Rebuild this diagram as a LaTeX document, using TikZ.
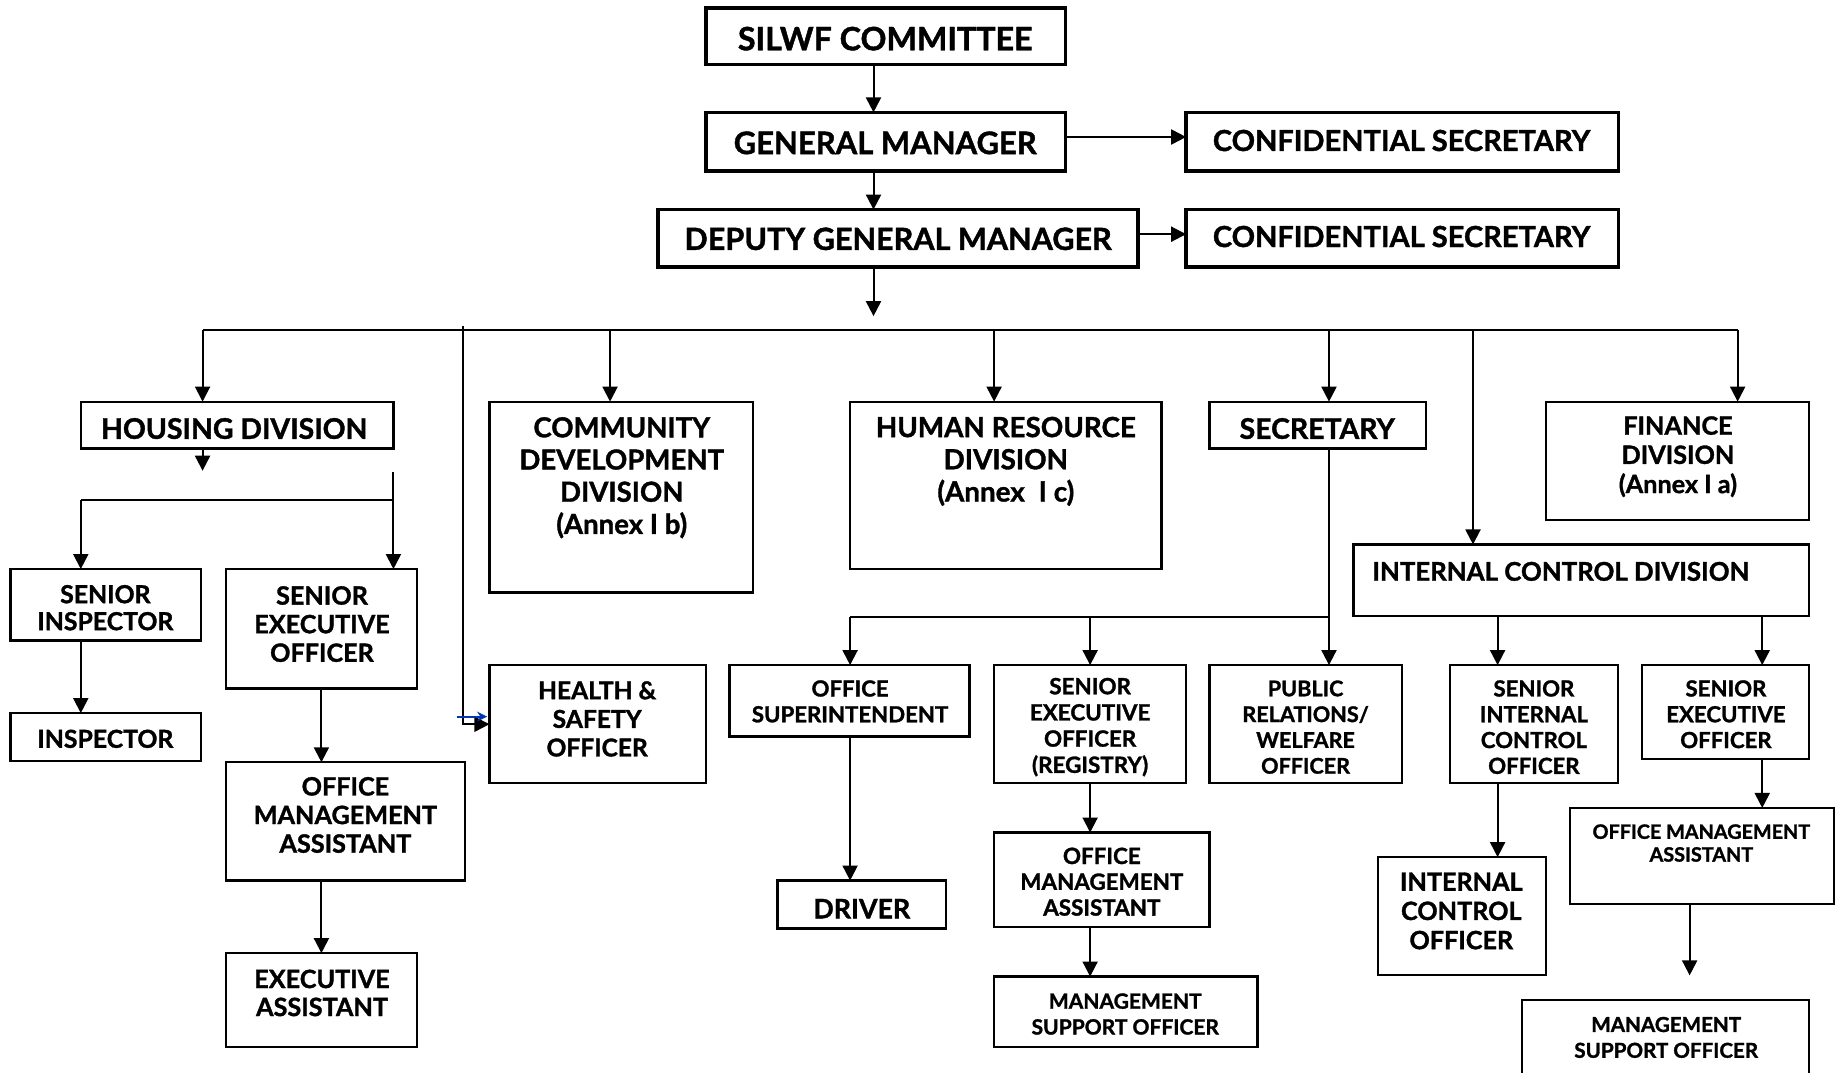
\documentclass[tikz,border=0pt]{standalone}
\usepackage{fontspec}
\setmainfont{Lato}[BoldFeatures={FakeBold=1.3}]
\usetikzlibrary{arrows.meta,calc}
\newcommand\boxat[6]{\node[#6, minimum width={(#4-#2)*0.5855pt}, minimum height={(#5-#3)*0.5855pt}] (#1) at ({(#2+#4)/2},{(#3+#5)/2}) {};}
\newcommand\fsz[2]{\fontsize{#1}{#2}\selectfont}
\begin{document}
\begin{tikzpicture}[x=0.5855pt,y=-0.5855pt,
  bx/.style={draw, line width=1.1pt, inner sep=0pt, outer sep=0pt, rectangle},
  bxT/.style={bx, line width=1.7pt},
  txt/.style={align=center, inner sep=0pt},
  arr/.style={line width=1pt, -{Triangle[width=7.5pt,length=7.5pt]}},
  ln/.style={line width=1pt}]
\useasboundingbox (0,0) rectangle (1568,916);
% ---- boxes ----
\boxat{silwf}{603}{7}{910}{55}{bxT}
\boxat{gm}{603}{96}{910}{146}{bxT}
\boxat{csa}{1013}{96}{1382}{146}{bxT}
\boxat{dgm}{562}{179}{972}{228}{bxT}
\boxat{csb}{1013}{179}{1382}{228}{bxT}
\boxat{housing}{69}{343}{336}{383}{bx}
\boxat{comm}{418}{343}{643}{506}{bx}
\boxat{hr}{726}{343}{992}{486}{bx}
\boxat{sec}{1033}{343}{1218}{383}{bx}
\boxat{fin}{1320}{343}{1545}{444}{bx}
\boxat{icd}{1156}{465}{1545}{526}{bx}
\boxat{si}{9}{486}{172}{547}{bx}
\boxat{insp}{9}{609}{172}{650}{bx}
\boxat{seoh}{193}{486}{356}{588}{bx}
\boxat{omah}{193}{651}{397}{752}{bx}
\boxat{ea}{193}{814}{356}{894}{bx}
\boxat{health}{418}{568}{603}{669}{bx}
\boxat{os}{623}{568}{828}{629}{bx}
\boxat{driver}{664}{752}{808}{793}{bx}
\boxat{seor}{849}{568}{1013}{669}{bx}
\boxat{omar}{849}{711}{1033}{792}{bx}
\boxat{msom}{849}{834}{1074}{894}{bx}
\boxat{pr}{1033}{568}{1197}{669}{bx}
\boxat{sico}{1238}{568}{1382}{669}{bx}
\boxat{ico}{1177}{732}{1320}{833}{bx}
\boxat{seof}{1402}{568}{1545}{648}{bx}
\boxat{omaf}{1341}{690}{1566}{772}{bx}
\boxat{msof}{1300}{854}{1545}{930}{bx}
% ---- texts ----
\node[txt, font=\bfseries\fsz{16.1}{18}] (silwf-t) at (756,33) {SILWF COMMITTEE};
\node[txt, font=\bfseries\fsz{15.5}{18}] (gm-t) at (756,122) {GENERAL MANAGER};
\node[txt, font=\bfseries\fsz{14.5}{18}] (csa-t) at (1197,120) {CONFIDENTIAL SECRETARY};
\node[txt, font=\bfseries\fsz{15.3}{18}] (dgm-t) at (767,204) {DEPUTY GENERAL MANAGER};
\node[txt, font=\bfseries\fsz{14.5}{18}] (csb-t) at (1197,202) {CONFIDENTIAL SECRETARY};
\node[txt, font=\bfseries\fsz{14.2}{16}] (housing-t) at (200,366) {HOUSING DIVISION};
\node[txt, font=\bfseries\fsz{13.8}{16.1}] (comm-t) at (531,408) {COMMUNITY\\DEVELOPMENT\\DIVISION\\(Annex I b)};
\node[txt, font=\bfseries\fsz{13.9}{16.1}] (hr-t) at (859,394) {HUMAN RESOURCE\\DIVISION\\(Annex\enspace I c)};
\node[txt, font=\bfseries\fsz{14.2}{16}] (sec-t) at (1125,366) {SECRETARY};
\node[txt, font=\bfseries\fsz{12.6}{14.6}] (fin-t) at (1433,390) {FINANCE\\DIVISION\\(Annex I a)};
\node[txt, font=\bfseries\fsz{12.9}{15}] (icd-t) at (1333,488) {INTERNAL CONTROL DIVISION};
\node[txt, font=\bfseries\fsz{12.4}{13.5}] (si-t) at (90,519) {SENIOR\\INSPECTOR};
\node[txt, font=\bfseries\fsz{12.4}{13.5}] (insp-t) at (90,631) {INSPECTOR};
\node[txt, font=\bfseries\fsz{12.6}{14.3}] (seoh-t) at (275,533) {SENIOR\\EXECUTIVE\\OFFICER};
\node[txt, font=\bfseries\fsz{12.6}{14.3}] (omah-t) at (295,696) {OFFICE\\MANAGEMENT\\ASSISTANT};
\node[txt, font=\bfseries\fsz{12.6}{14}] (ea-t) at (275,848) {EXECUTIVE\\ASSISTANT};
\node[txt, font=\bfseries\fsz{12.3}{14.3}] (health-t) at (510,614) {HEALTH \&\\SAFETY\\OFFICER};
\node[txt, font=\bfseries\fsz{11.1}{12.9}] (os-t) at (726,599) {OFFICE\\SUPERINTENDENT};
\node[txt, font=\bfseries\fsz{13.4}{15}] (driver-t) at (736,776) {DRIVER};
\node[txt, font=\bfseries\fsz{11.2}{13.1}] (seor-t) at (931,621) {SENIOR\\EXECUTIVE\\OFFICER\\(REGISTRY)};
\node[txt, font=\bfseries\fsz{11.2}{12.9}] (omar-t) at (941,753) {OFFICE\\MANAGEMENT\\ASSISTANT};
\node[txt, font=\bfseries\fsz{10.5}{12.9}] (msom-t) at (961,866) {MANAGEMENT\\SUPPORT OFFICER};
\node[txt, font=\bfseries\fsz{10.8}{12.9}] (pr-t) at (1115,621) {PUBLIC\\RELATIONS/\\WELFARE\\OFFICER};
\node[txt, font=\bfseries\fsz{11.1}{12.9}] (sico-t) at (1310,621) {SENIOR\\INTERNAL\\CONTROL\\OFFICER};
\node[txt, font=\bfseries\fsz{12.6}{14.6}] (ico-t) at (1248,778) {INTERNAL\\CONTROL\\OFFICER};
\node[txt, font=\bfseries\fsz{11.1}{12.9}] (seof-t) at (1474,610) {SENIOR\\EXECUTIVE\\OFFICER};
\node[txt, font=\bfseries\fsz{9.9}{11.4}] (omaf-t) at (1453,720) {OFFICE MANAGEMENT\\ASSISTANT};
\node[txt, font=\bfseries\fsz{10.3}{12.9}] (msof-t) at (1423,886) {MANAGEMENT\\SUPPORT OFFICER};
% ---- coordinates ----
\coordinate (c746) at (746,0);
\coordinate (dgmEnd) at (746,270);
\coordinate (busL) at (173,282);
\coordinate (busR) at (1484,282);
\coordinate (b521) at (521,282);
\coordinate (b849) at (849,282);
\coordinate (b1135) at (1135,282);
\coordinate (b1258) at (1258,282);
\coordinate (hsTop) at (395,278);
\coordinate (hEnd) at (173,402);
\coordinate (hj) at (336,403);
\coordinate (hm) at (336,427);
\coordinate (hk) at (69,427);
\coordinate (sj) at (1135,527);
\coordinate (s726) at (726,527);
\coordinate (s931) at (931,527);
\coordinate (f1279) at (1279,0);
\coordinate (f1505) at (1505,0);
\coordinate (f1443) at (1443,772);
\coordinate (fEnd) at (1443,833);
\coordinate (blueA) at (390,612);
\coordinate (blueB) at (416,612);
% ---- connectors ----
\draw[arr] (silwf.south -| c746) -- (gm.north -| c746);
\draw[arr] (gm.south -| c746) -- (dgm.north -| c746);
\draw[arr] (gm.east |- 0,117) -- (csa.west |- 0,117);
\draw[arr] (dgm.east |- 0,200) -- (csb.west |- 0,200);
\draw[arr] (dgm.south -| dgmEnd) -- (dgmEnd);
\draw[ln] (busL) -- (busR);
\draw[arr] (busL) -- (housing.north -| busL);
\draw[arr] (b521) -- (comm.north -| b521);
\draw[arr] (b849) -- (hr.north -| b849);
\draw[arr] (b1135) -- (sec.north -| b1135);
\draw[arr] (b1258) -- (icd.north -| b1258);
\draw[arr] (busR) -- (fin.north -| busR);
\draw[arr] (hsTop) |- (health.west);
\draw[line width=0.9pt, -{Stealth[width=5pt,length=5pt]}, draw=blue!70!cyan!70!black] (blueA) -- (blueB);
\draw[arr] (housing.south -| hEnd) -- (hEnd);
\draw[arr] (hj) -- (seoh.north -| hj);
\draw[ln] (hm) -- (hk);
\draw[arr] (hk) -- (si.north -| hk);
\draw[arr] (si.south -| hk) -- (insp.north -| hk);
\draw[arr] (seoh.south) -- (omah.north -| seoh.south);
\draw[arr] (omah.south -| seoh.south) -- (ea.north);
\draw[arr] (sec.south -| sj) -- (pr.north -| sj);
\draw[ln] (sj) -- (s726);
\draw[arr] (s726) -- (os.north -| s726);
\draw[arr] (s931) -- (seor.north -| s931);
\draw[arr] (os.south -| s726) -- (driver.north -| s726);
\draw[arr] (seor.south -| s931) -- (omar.north -| s931);
\draw[arr] (omar.south -| s931) -- (msom.north -| s931);
\draw[arr] (icd.south -| f1279) -- (sico.north -| f1279);
\draw[arr] (icd.south -| f1505) -- (seof.north -| f1505);
\draw[arr] (sico.south -| f1279) -- (ico.north -| f1279);
\draw[arr] (seof.south -| f1505) -- (omaf.north -| f1505);
\draw[arr] (omaf.south -| f1443) -- (fEnd);
\end{tikzpicture}
\end{document}
